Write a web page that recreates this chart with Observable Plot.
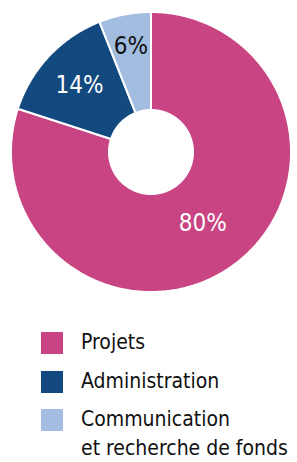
<!DOCTYPE html>
<html>
<head>
<meta charset="utf-8">
<script src="https://cdn.jsdelivr.net/npm/d3@7"></script>
<script src="https://cdn.jsdelivr.net/npm/@observablehq/plot@0.6"></script>
<style>
  html, body { margin: 0; padding: 0; background: #fff; }
  #wrap { position: relative; width: 297px; height: 462px; overflow: hidden;
          font-family: "DejaVu Sans", sans-serif; font-stretch: condensed; }
  #chart { position: absolute; left: 0; top: 0; }
  .item { position: absolute; left: 41px; }
  .sw { position: absolute; left: 0; top: 0; width: 22px; height: 22px; }
  .lab { position: absolute; left: 40px; top: -4px; font-size: 21px; line-height: 29px;
         color: #111; white-space: nowrap; font-stretch: condensed; }
</style>
</head>
<body>
<div id="wrap">
  <div id="chart"></div>
  <div id="legend"></div>
</div>
<script>
const categories = ["Projets", "Administration", "Communication et recherche de fonds"];
const legendLines = [["Projets"], ["Administration"], ["Communication", "et recherche de fonds"]];
const values = [80, 14, 6];
const labels = ["80%", "14%", "6%"];
const labelColors = ["#ffffff", "#ffffff", "#111111"];
const colors = ["#c84482", "#124a80", "#a2bde0"];

const innerR = 0.30;
const arcs = d3.pie().sort(null).value(d => d)(values);
const pts = [];
arcs.forEach((a, i) => {
  const n = Math.max(4, Math.ceil((a.endAngle - a.startAngle) / 0.01));
  for (let k = 0; k <= n; k++) {
    const t = a.startAngle + (a.endAngle - a.startAngle) * k / n;
    pts.push({cat: categories[i], x: Math.sin(t), y: Math.cos(t)});
  }
  for (let k = n; k >= 0; k--) {
    const t = a.startAngle + (a.endAngle - a.startAngle) * k / n;
    pts.push({cat: categories[i], x: innerR * Math.sin(t), y: innerR * Math.cos(t)});
  }
});
const labelR = [0.63, 0.70, 0.77];
const labelData = arcs.map((a, i) => {
  const m = (a.startAngle + a.endAngle) / 2;
  return {text: labels[i], color: labelColors[i], x: labelR[i] * Math.sin(m), y: labelR[i] * Math.cos(m)};
});

const plot = Plot.plot({
  width: 297,
  height: 305,
  margin: 0,
  x: {domain: [-1, 1], range: [10.5, 290.5], axis: null},
  y: {domain: [-1, 1], range: [291.5, 11.5], axis: null},
  color: {domain: categories, range: colors},
  marks: [
    Plot.line(pts, {x: "x", y: "y", z: "cat", fill: "cat", stroke: "white", strokeWidth: 2,
                    curve: "linear-closed", strokeLinejoin: "miter"}),
    Plot.text(labelData, {x: "x", y: "y", text: "text", fill: "color", fontSize: 24,
                          fontFamily: "DejaVu Sans", fontStretch: "condensed"})
  ]
});
plot.style.fontStretch = "condensed";
document.getElementById("chart").appendChild(plot);

const legend = document.getElementById("legend");
const tops = [332, 371, 409];
categories.forEach((c, i) => {
  const it = document.createElement("div");
  it.className = "item";
  it.style.top = tops[i] + "px";
  const sw = document.createElement("div");
  sw.className = "sw";
  sw.style.background = colors[i];
  const lab = document.createElement("div");
  lab.className = "lab";
  lab.innerHTML = legendLines[i].join("<br>");
  it.appendChild(sw);
  it.appendChild(lab);
  legend.appendChild(it);
});
</script>
</body>
</html>
